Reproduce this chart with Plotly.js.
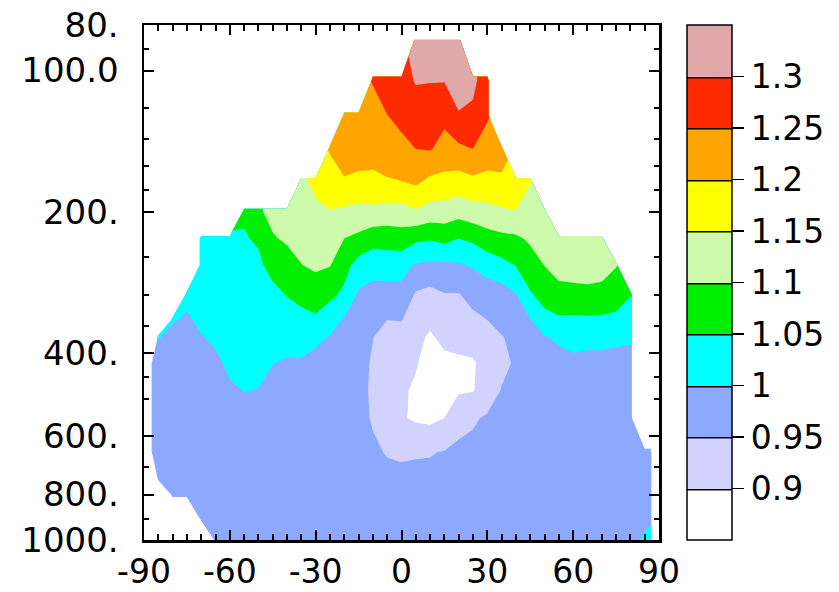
<!DOCTYPE html>
<html><head><meta charset="utf-8">
<script src="https://cdn.plot.ly/plotly-3.0.1.min.js"></script>
<style>html,body{margin:0;padding:0;background:#fff}</style>
</head><body><div id="chart" style="width:839px;height:592px"></div>
<script>
const N = null;
// latitude of each profile (degrees)
const latitude = [-90,-87,-85,-80,-75,-70,-65,-60,-55,-50,-45,-40,-35,-30,-25,-20,-15,-10,-5,0,5,10,15,20,25,30,35,40,45,50,55,60,65,70,75,80,85,87,90];
// pressure levels (hPa), top to bottom
const pressure = [86,105,125,147,172,200,228,260,300,340,370,420,480,550,650,740,800,900,1000];
// one profile per latitude (values at each pressure level, null = no data)
const profiles = [
 [N,N,N,N,N,N,N,N,N,N,N,N,N,N,N,N,N,N,N],
 [N,N,N,N,N,N,N,N,N,N,N,0.985,0.975,0.972,0.972,N,N,N,N],
 [N,N,N,N,N,N,N,N,N,N,1.002,0.985,0.975,0.972,0.97,0.97,N,N,N],
 [N,N,N,N,N,N,N,N,N,1.003,0.99,0.98,0.975,0.972,0.97,0.97,0.97,N,N],
 [N,N,N,N,N,N,N,N,1.01,0.995,0.988,0.978,0.975,0.972,0.97,0.97,0.97,N,N],
 [N,N,N,N,N,N,1.04,1.03,1.02,1.008,0.998,0.985,0.978,0.975,0.972,0.97,0.97,0.97,N],
 [N,N,N,N,N,N,1.045,1.035,1.025,1.015,1.007,0.992,0.982,0.977,0.975,0.972,0.97,0.97,0.97],
 [N,N,N,N,N,N,1.048,1.04,1.03,1.022,1.016,1.008,0.995,0.985,0.978,0.975,0.972,0.97,0.97],
 [N,N,N,N,N,1.055,1.047,1.042,1.035,1.027,1.02,1.01,1.001,0.99,0.98,0.975,0.972,0.97,0.97],
 [N,N,N,N,N,1.095,1.055,1.042,1.035,1.028,1.022,1.012,0.999,0.99,0.98,0.975,0.972,0.97,0.97],
 [N,N,N,N,N,1.11,1.097,1.065,1.038,1.027,1.017,1.001,0.99,0.982,0.978,0.975,0.972,0.97,0.97],
 [N,N,N,N,N,1.12,1.105,1.085,1.052,1.03,1.015,0.996,0.987,0.98,0.977,0.975,0.972,0.97,0.97],
 [N,N,N,N,1.14,1.13,1.115,1.099,1.065,1.035,1.02,0.995,0.985,0.98,0.977,0.975,0.972,0.97,0.97],
 [N,N,N,N,1.16,1.142,1.127,1.108,1.075,1.042,1.007,0.99,0.982,0.978,0.975,0.973,0.972,0.97,0.97],
 [N,N,N,1.205,1.175,1.148,1.127,1.102,1.062,1.02,0.998,0.985,0.978,0.975,0.972,0.972,0.97,0.97,0.97],
 [N,N,1.238,1.218,1.197,1.14,1.1,1.068,1.04,0.995,0.98,0.975,0.972,0.97,0.97,0.97,0.97,0.97,0.97],
 [N,N,1.24,1.222,1.19,1.133,1.09,1.03,0.993,0.975,0.968,0.962,0.96,0.96,0.965,0.968,0.97,0.97,0.97],
 [N,1.252,1.238,1.218,1.19,1.138,1.07,1.017,0.985,0.962,0.951,0.946,0.945,0.947,0.955,0.962,0.965,0.968,0.97],
 [N,1.272,1.249,1.228,1.196,1.13,1.072,1.022,0.982,0.95,0.935,0.922,0.915,0.918,0.948,0.958,0.962,0.965,0.967],
 [N,1.285,1.262,1.238,1.2,1.13,1.078,1.018,0.985,0.952,0.93,0.912,0.905,0.905,0.945,0.958,0.962,0.965,0.967],
 [1.32,1.303,1.28,1.25,1.21,1.145,1.06,0.995,0.945,0.922,0.91,0.903,0.895,0.893,0.947,0.958,0.962,0.965,0.967],
 [1.33,1.302,1.275,1.253,1.19,1.13,1.055,0.99,0.935,0.908,0.895,0.885,0.882,0.888,0.948,0.958,0.962,0.965,0.967],
 [1.33,1.302,1.26,1.235,1.185,1.128,1.065,0.99,0.948,0.928,0.91,0.89,0.885,0.9,0.952,0.958,0.962,0.965,0.967],
 [1.34,1.318,1.297,1.24,1.18,1.118,1.05,0.995,0.948,0.925,0.91,0.895,0.895,0.93,0.962,0.962,0.963,0.965,0.967],
 [N,1.312,1.29,1.25,1.19,1.13,1.06,1.005,0.965,0.94,0.92,0.895,0.897,0.945,0.96,0.962,0.963,0.965,0.967],
 [N,1.27,1.255,1.23,1.185,1.135,1.08,1.02,0.975,0.95,0.935,0.92,0.925,0.955,0.962,0.963,0.964,0.965,0.967],
 [N,N,N,1.222,1.192,1.143,1.088,1.035,0.978,0.962,0.948,0.94,0.952,0.96,0.963,0.964,0.965,0.965,0.967],
 [N,N,N,N,1.18,1.148,1.092,1.052,0.998,0.972,0.96,0.955,0.96,0.963,0.965,0.965,0.965,0.966,0.967],
 [N,N,N,N,1.152,1.13,1.107,1.08,1.045,0.998,0.985,0.975,0.97,0.968,0.967,0.967,0.967,0.967,0.968],
 [N,N,N,N,N,1.132,1.117,1.101,1.068,1.035,0.997,0.982,0.975,0.97,0.968,0.967,0.967,0.967,0.968],
 [N,N,N,N,N,N,1.128,1.114,1.088,1.042,1.006,0.988,0.978,0.972,0.968,0.967,0.967,0.967,0.968],
 [N,N,N,N,N,N,1.13,1.115,1.09,1.04,1.012,0.992,0.98,0.973,0.968,0.967,0.967,0.967,0.968],
 [N,N,N,N,N,N,1.13,1.115,1.092,1.042,1.01,0.99,0.98,0.973,0.968,0.967,0.967,0.967,0.968],
 [N,N,N,N,N,N,1.128,1.113,1.09,1.04,1.01,0.99,0.98,0.973,0.968,0.967,0.967,0.967,0.968],
 [N,N,N,N,N,N,N,1.102,1.077,1.037,1.006,0.99,0.98,0.973,0.97,0.968,0.968,0.968,0.97],
 [N,N,N,N,N,N,N,N,1.052,1.03,1.004,0.99,0.98,0.975,0.973,0.972,0.972,0.975,0.985],
 [N,N,N,N,N,N,N,N,N,N,N,N,N,N,0.975,0.975,0.977,0.985,1.01],
 [N,N,N,N,N,N,N,N,N,N,N,N,N,N,0.975,0.975,0.978,0.99,1.02],
 [N,N,N,N,N,N,N,N,N,N,N,N,N,N,N,N,N,N,N]
];
const levels = [0.9,0.95,1,1.05,1.1,1.15,1.2,1.25,1.3];
const levelLabels = ['0.9','0.95','1','1.05','1.1','1.15','1.2','1.25','1.3'];
const bandColors = ['#ffffff','#d2d2ff','#8ca8ff','#00ffff','#00ee00','#ccfaaa','#ffff00','#ffa500','#ff2a00','#e0a8a8'];
const latTicks = [-90,-60,-30,0,30,60,90];
const latTickText = ['-90','-60','-30','0','30','60','90'];
const latMinor = [-85,-80,-75,-70,-65,-55,-50,-45,-40,-35,-25,-20,-15,-10,-5,5,10,15,20,25,35,40,45,50,55,65,70,75,80,85];
const pTicks = [80,100,200,400,600,800,1000];
const pTickText = ['80.','100.0','200.','400.','600.','800.','1000.'];
const pMinor = [90,120,140,160,180,250,300,350,450,500,700,900];

const z = pressure.map((p, i) => profiles.map(col => col[i]));
const colorscale = bandColors.map((c, k) => [k / (bandColors.length - 1), c]);
const step = levels[1] - levels[0];
const contours = {start: levels[0], end: levels[levels.length - 1], size: step, coloring: 'fill'};
const FONT = 'DejaVu Sans, Liberation Sans, Arial, sans-serif';

const main = {
  type: 'contour', x: latitude, y: pressure, z: z,
  zmin: levels[0] - step, zmax: levels[levels.length - 1] + step,
  autocontour: false, contours: Object.assign({showlines: false}, contours),
  line: {smoothing: 0, width: 0}, colorscale: colorscale, showscale: false,
  connectgaps: false, hoverinfo: 'skip'
};
const scaleTrace = {
  type: 'contour', x: latitude, y: pressure, z: z, xaxis: 'x2', yaxis: 'y2',
  zmin: levels[0] - step, zmax: levels[levels.length - 1] + step,
  autocontour: false, contours: Object.assign({showlines: true}, contours),
  line: {smoothing: 0, width: 1.5, color: '#000'}, colorscale: colorscale, showscale: true,
  connectgaps: false, hoverinfo: 'skip',
  colorbar: {
    x: (687 - 144) / 515, xanchor: 'left', y: 0.5, yanchor: 'middle',
    len: 1, lenmode: 'fraction', thickness: 45, thicknessmode: 'pixels',
    xpad: 0, ypad: 0, outlinewidth: 1.5, outlinecolor: '#000', borderwidth: 0,
    ticks: 'outside', ticklen: 12, tickwidth: 1.5, tickcolor: '#000',
    tickmode: 'array', tickvals: levels, ticktext: levelLabels,
    tickfont: {size: 33, color: '#000', family: FONT}
  }
};

const tickCommon = {showgrid: false, zeroline: false, tickcolor: '#000', tickwidth: 2};
const layout = {
  width: 839, height: 592,
  margin: {l: 144, r: 180, t: 25, b: 52, pad: 0},
  paper_bgcolor: '#fff', plot_bgcolor: '#fff',
  font: {family: FONT, color: '#000'},
  showlegend: false,
  xaxis: Object.assign({}, tickCommon, {
    range: [-90, 90], autorange: false, showline: true, linecolor: '#000', linewidth: 2.5,
    mirror: 'ticks', ticks: 'inside', ticklen: 10,
    tickmode: 'array', tickvals: latTicks, ticktext: latTickText,
    tickfont: {size: 33, family: FONT}, ticklabelstandoff: 1,
    minor: {tickmode: 'array', tickvals: latMinor, ticks: 'inside', ticklen: 6, tickwidth: 2, tickcolor: '#000', showgrid: false}
  }),
  xaxis3: Object.assign({}, tickCommon, {
    overlaying: 'x', anchor: 'y', range: [-90, 90], autorange: false,
    showline: false, mirror: 'ticks', ticks: 'outside', ticklen: 8, showticklabels: false,
    tickmode: 'array', tickvals: latTicks,
    minor: {tickmode: 'array', tickvals: latMinor, ticks: 'outside', ticklen: 6, tickwidth: 2, tickcolor: '#000', showgrid: false}
  }),
  yaxis: Object.assign({}, tickCommon, {
    type: 'log', range: [Math.log10(1000), Math.log10(80)], autorange: false,
    showline: true, linecolor: '#000', linewidth: 2.5,
    mirror: 'ticks', ticks: 'inside', ticklen: 10,
    tickmode: 'array', tickvals: pTicks, ticktext: pTickText,
    tickfont: {size: 34, family: FONT}, ticklabelstandoff: 16,
    minor: {tickmode: 'array', tickvals: pMinor, ticks: 'inside', ticklen: 5, tickwidth: 2, tickcolor: '#000', showgrid: false}
  }),
  yaxis3: Object.assign({}, tickCommon, {
    overlaying: 'y', anchor: 'x', type: 'log', range: [Math.log10(1000), Math.log10(80)], autorange: false,
    showline: false, mirror: 'ticks', ticks: 'outside', ticklen: 12, showticklabels: false,
    tickmode: 'array', tickvals: pTicks,
    minor: {tickmode: 'array', tickvals: pMinor, ticks: 'outside', ticklen: 4, tickwidth: 2, tickcolor: '#000', showgrid: false}
  }),
  xaxis2: {overlaying: 'x', range: [1000, 1001], autorange: false, visible: false},
  yaxis2: {overlaying: 'y', range: [5000, 5001], autorange: false, visible: false}
};

Plotly.newPlot('chart', [main, scaleTrace], layout, {staticPlot: true, displayModeBar: false});
</script>
</body></html>
